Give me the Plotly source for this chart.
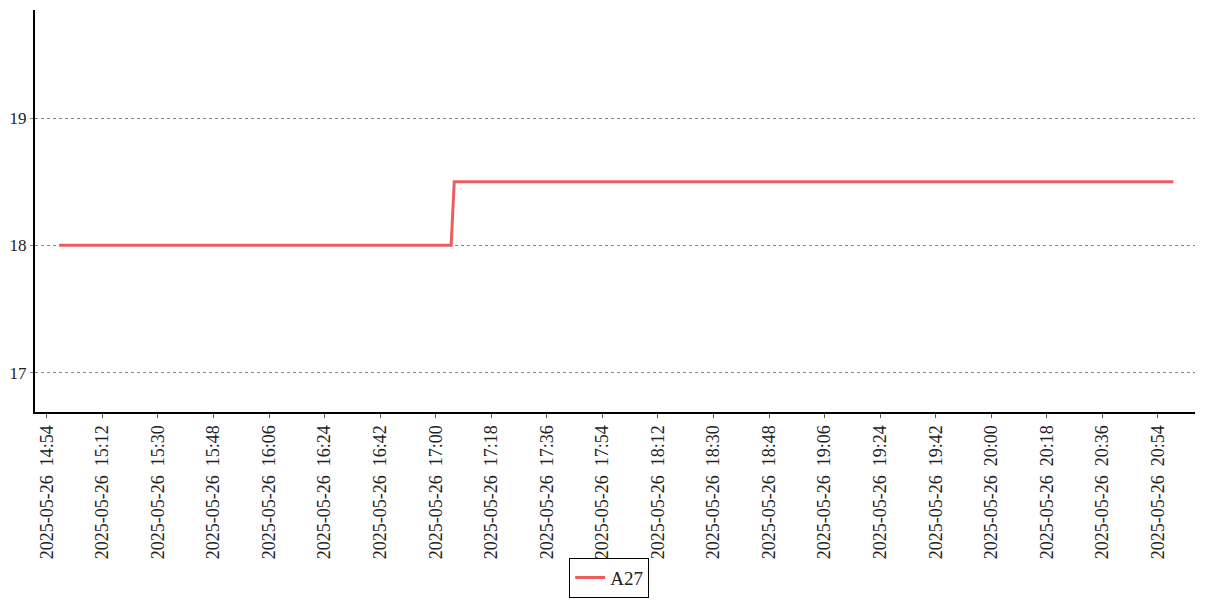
import plotly.graph_objects as go

times = ["2025-05-26 14:58", "2025-05-26 17:05", "2025-05-26 17:06", "2025-05-26 20:59"]
values = [18, 18, 18.5, 18.5]
series_name = "A27"

fig = go.Figure()
fig.add_trace(go.Scatter(x=times, y=values, mode="lines", name=series_name,
                         line=dict(color="#EE5D5D", width=3)))

font_family = "Liberation Serif, DejaVu Serif, serif"
fig.update_layout(
    width=1207, height=600,
    margin=dict(l=27, r=20, t=2, b=196),
    plot_bgcolor="white", paper_bgcolor="white",
    font=dict(family=font_family, size=17, color="#222"),
    showlegend=True,
    legend=dict(orientation="h", x=0.495, xanchor="center", y=-0.462, yanchor="bottom",
                bordercolor="black", borderwidth=1, font=dict(size=19, family=font_family),
                itemwidth=30, tracegroupgap=0),
    xaxis=dict(
        type="date", automargin=False,
        range=["2025-05-26 14:50:10", "2025-05-26 21:06"],
        tick0="2025-05-26 14:54", dtick=18 * 60 * 1000,
        tickformat="%Y-%m-%d  %H:%M", tickangle=-90,
        tickfont=dict(size=18),
        showgrid=False, zeroline=False,
        showline=True, linecolor="black", linewidth=2,
        ticks="outside", ticklen=4, tickcolor="#555",
    ),
    yaxis=dict(
        automargin=False,
        range=[16.69, 19.85], dtick=1, tick0=17,
        tickfont=dict(size=17),
        showgrid=True, gridcolor="#888", griddash="dot", gridwidth=1,
        zeroline=False, showline=True, linecolor="black", linewidth=2,
        ticks="outside", ticklen=3, tickcolor="#888",
    ),
)
fig.write_html("out.html")
